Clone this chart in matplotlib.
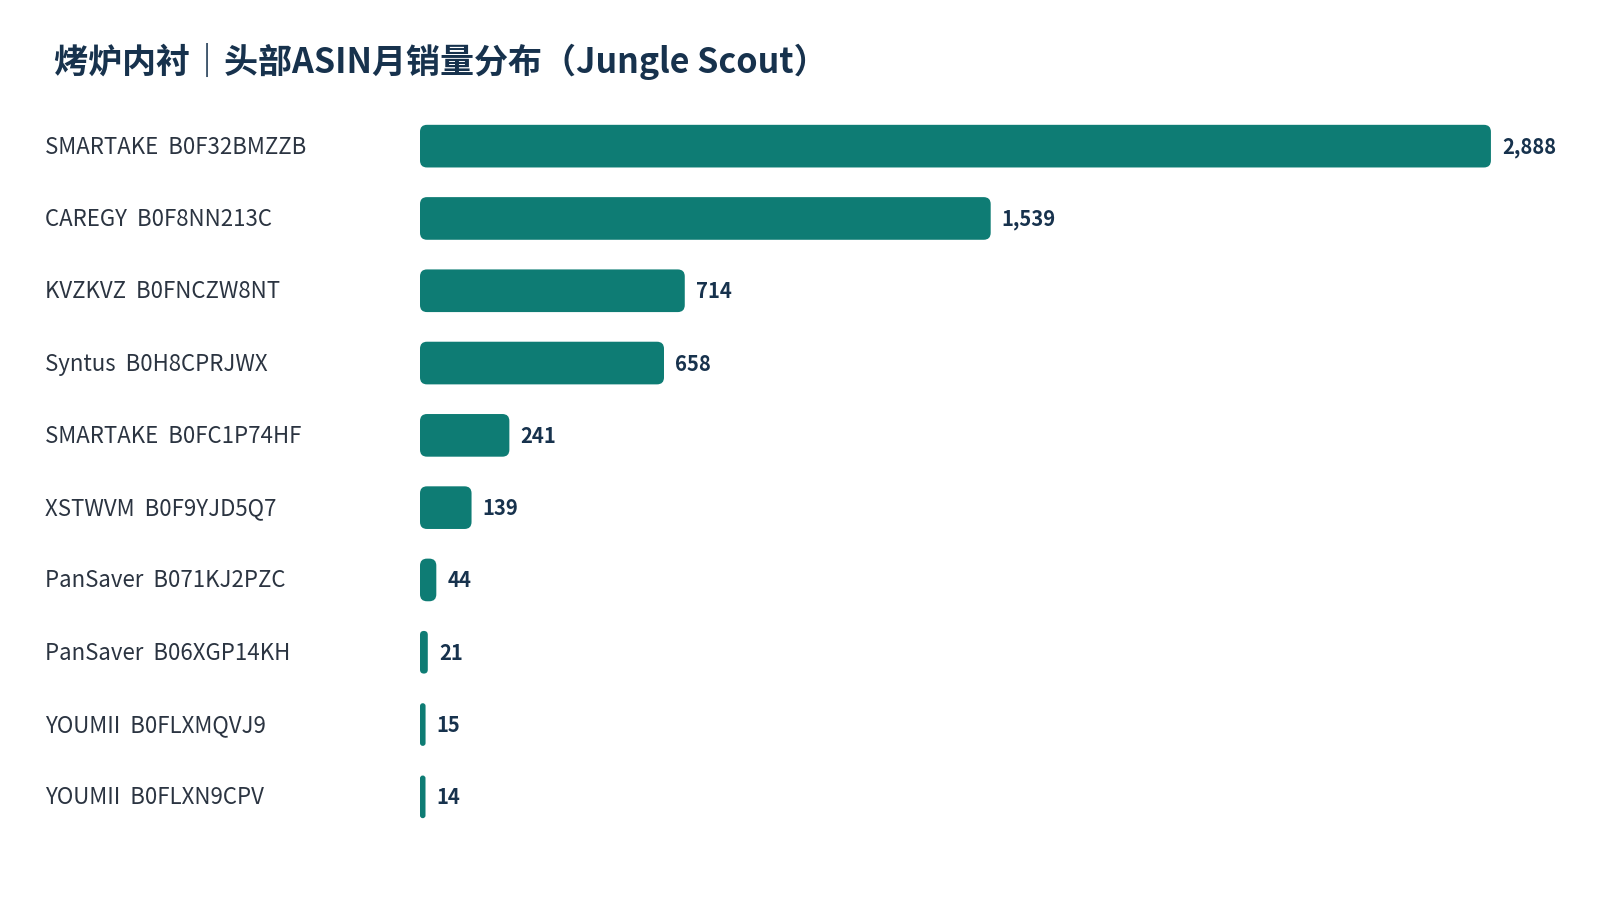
import matplotlib
matplotlib.use("Agg")
import matplotlib.pyplot as plt
from matplotlib.patches import FancyBboxPatch

plt.rcParams['font.family'] = ['Noto Sans CJK SC', 'DejaVu Sans']

# data
brands = ['SMARTAKE', 'CAREGY', 'KVZKVZ', 'Syntus', 'SMARTAKE',
          'XSTWVM', 'PanSaver', 'PanSaver', 'YOUMII', 'YOUMII']
asins = ['B0F32BMZZB', 'B0F8NN213C', 'B0FNCZW8NT', 'B0H8CPRJWX', 'B0FC1P74HF',
         'B0F9YJD5Q7', 'B071KJ2PZC', 'B06XGP14KH', 'B0FLXMQVJ9', 'B0FLXN9CPV']
sales = [2888, 1539, 714, 658, 241, 139, 44, 21, 15, 14]
title = '烤炉内衬｜头部ASIN月销量分布（Jungle Scout）'

bar_color = '#0e7c74'
navy = '#17324d'
label_color = '#2b3441'

W, H, DPI = 1600, 920, 100
fig = plt.figure(figsize=(W / DPI, H / DPI), dpi=DPI)

# axes placement in pixels
ax_l, ax_r, ax_t, ax_b = 420, 1560, 111, 834
ax = fig.add_axes([ax_l / W, 1 - ax_b / H, (ax_r - ax_l) / W, (ax_b - ax_t) / H])

n = len(sales)
xmax = max(sales) * 1.0645
ax.set_xlim(0, xmax)
ax.set_ylim(n - 0.5, -0.5)
ax.axis('off')

px_x = (ax_r - ax_l) / xmax
px_y = (ax_b - ax_t) / n
bar_h = 0.59
aspect = px_x / px_y

for i, v in enumerate(sales):
    w_px = max(v * px_x, 5.5)
    w = w_px / px_x
    r_px = min(7.0, w_px / 2, bar_h * px_y / 2)
    patch = FancyBboxPatch((0, i - bar_h / 2), w, bar_h,
                           boxstyle=f'round,pad=0,rounding_size={r_px / px_x}',
                           mutation_aspect=aspect,
                           facecolor=bar_color, edgecolor='none')
    ax.add_patch(patch)
    ax.text(w + 11 / px_x, i, f'{v:,}', va='center', ha='left',
            fontsize=14.6, fontweight='bold', color=navy)
    ax.text((45 - ax_l) / (ax_r - ax_l), i, f'{brands[i]}  {asins[i]}',
            transform=ax.get_yaxis_transform(), va='center', ha='left',
            fontsize=16.0, color=label_color)

fig.text(54 / W, 1 - 62 / H, title, va='center', ha='left',
         fontsize=24.5, fontweight='bold', color=navy)

fig.savefig('out.png', dpi=DPI, facecolor='white')
